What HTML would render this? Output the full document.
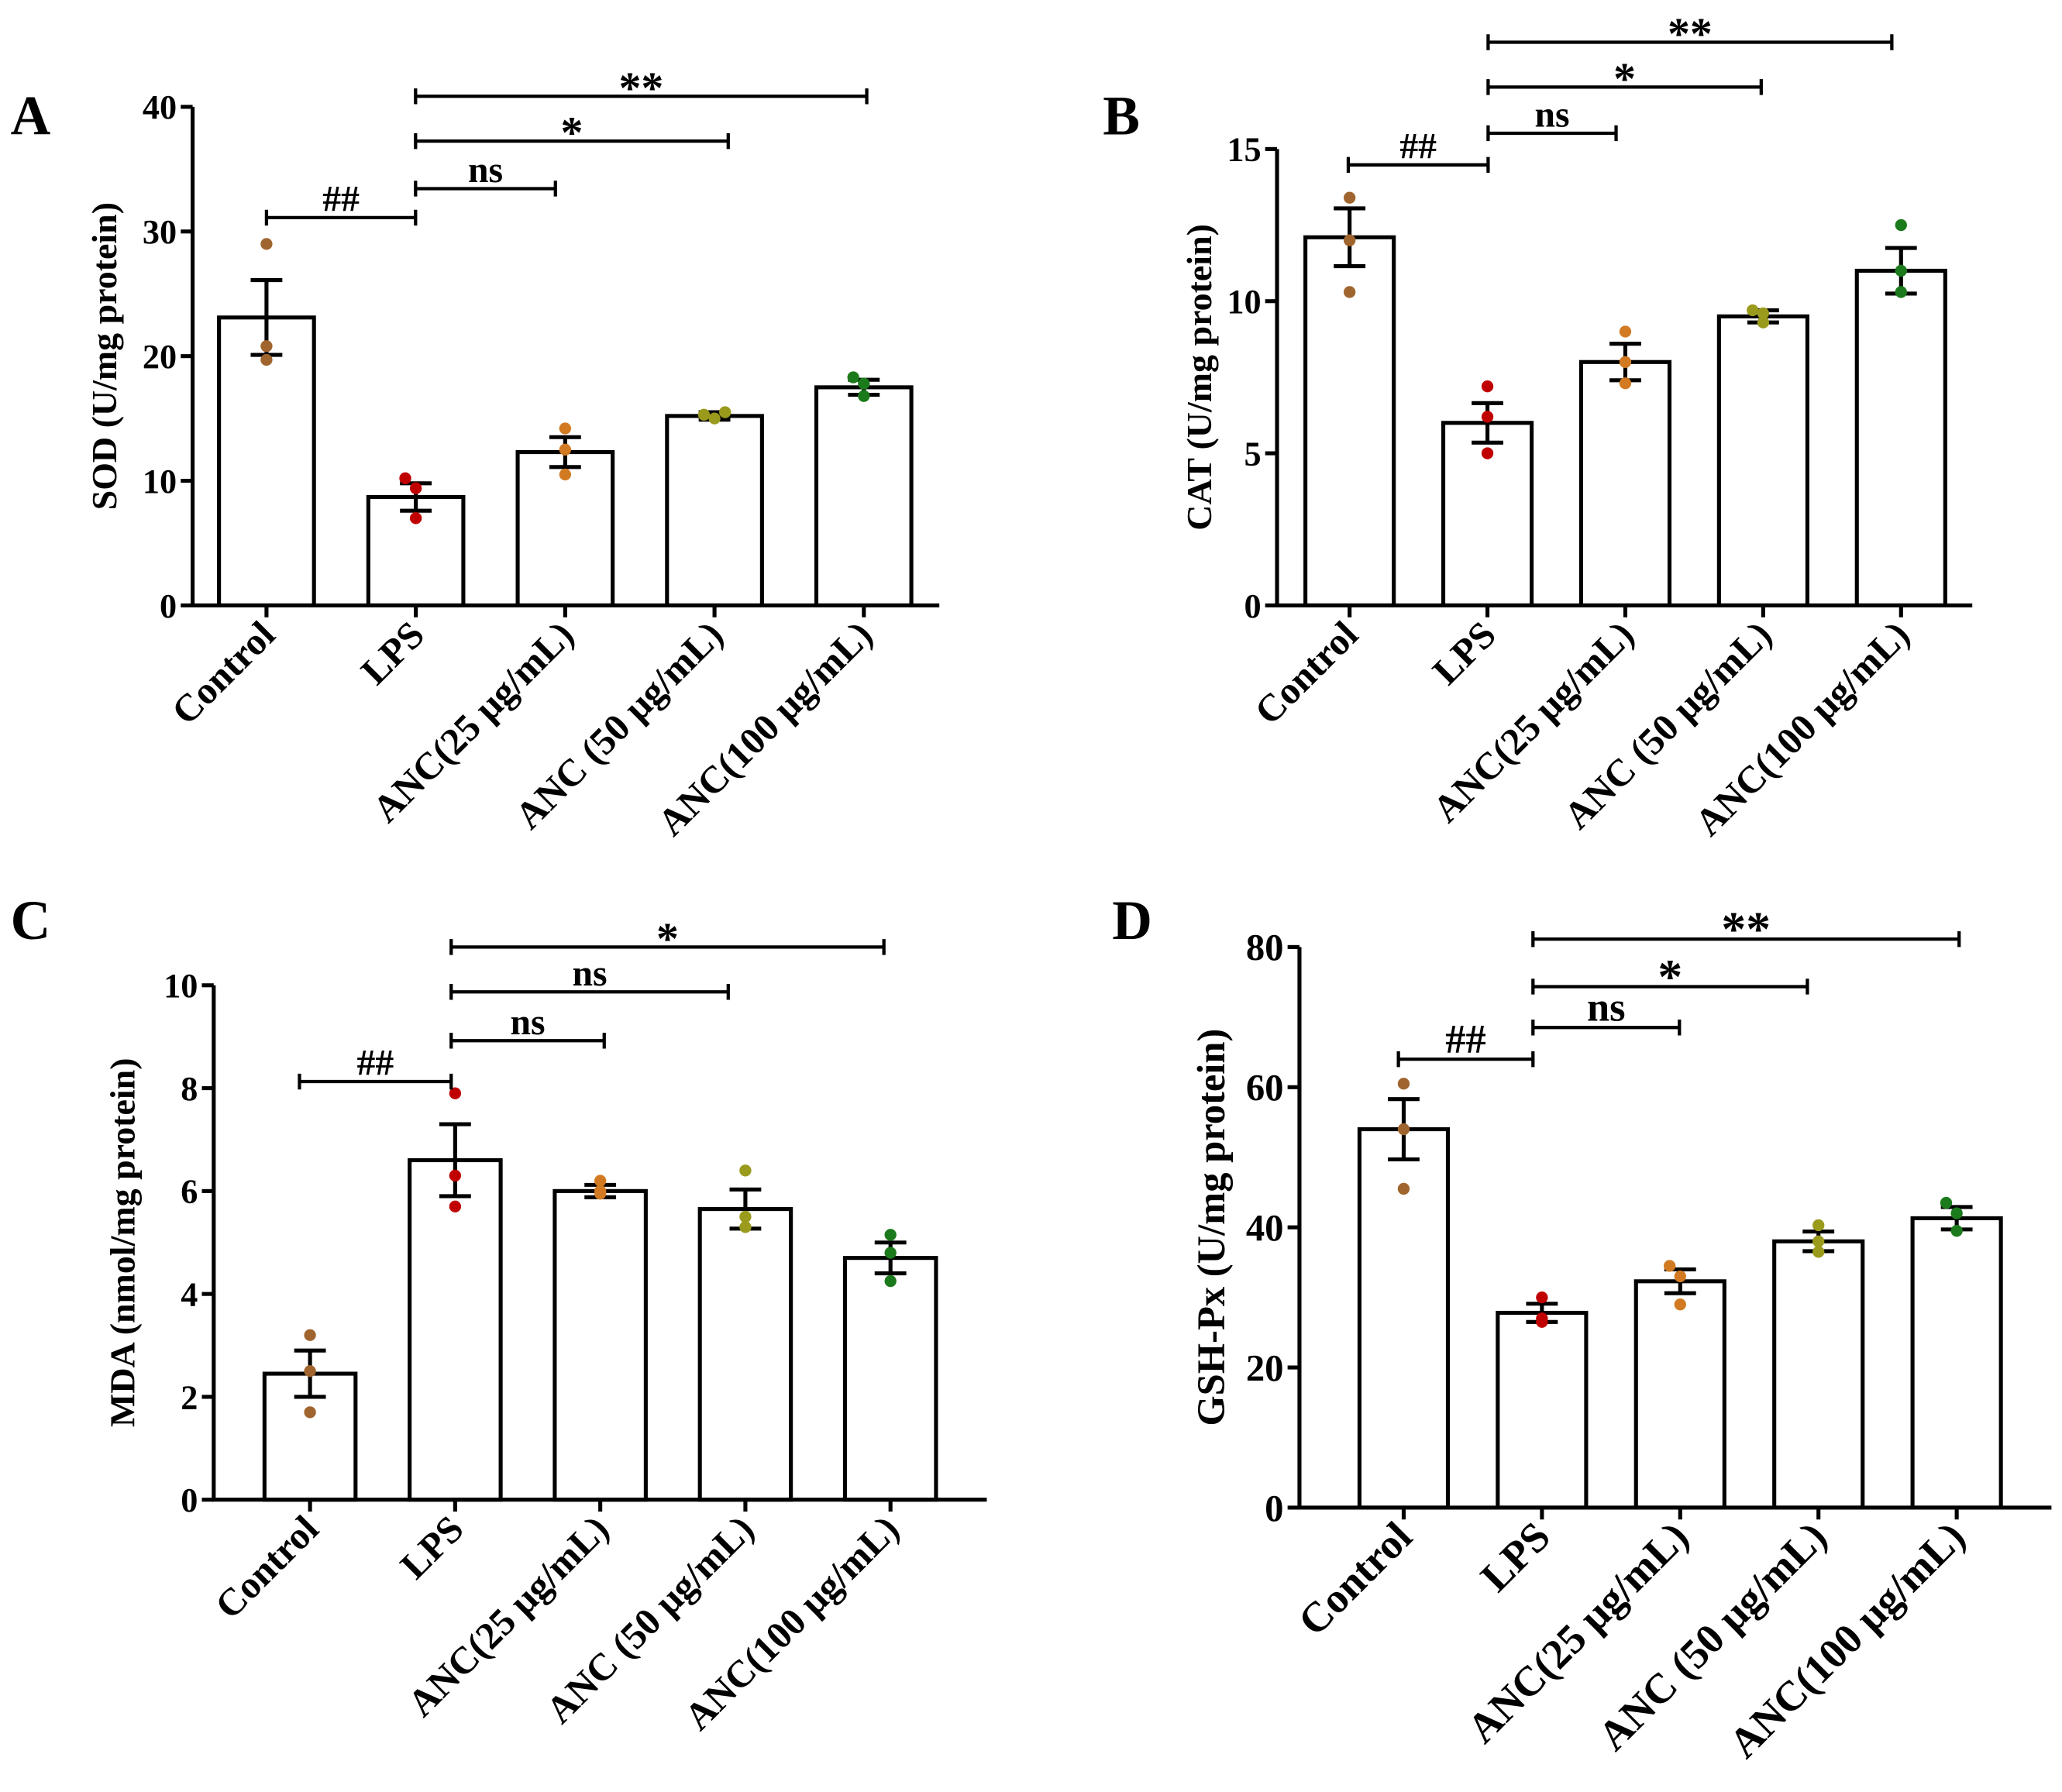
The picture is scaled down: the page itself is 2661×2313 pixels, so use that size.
<!DOCTYPE html>
<html><head><meta charset="utf-8"><style>
html,body{margin:0;padding:0;background:#fff;}
svg{display:block;}
text{font-family:"Liberation Serif",serif;font-weight:bold;fill:#000;}
</style></head><body>
<svg id="chart" width="2661" height="2313" viewBox="0 0 1563 1358.6" xmlns="http://www.w3.org/2000/svg"></svg>
<script>
const categories = ["Control","LPS","ANC(25 μg/mL)","ANC (50 μg/mL)","ANC(100 μg/mL)"];
const dotColors = ["#a0652e","#c00000","#d27a22","#9a9a1c","#1b7a1b"];

const sodMeans = [23.1, 8.7, 12.3, 15.2, 17.5];
const sodErr = [3.0, 1.1, 1.2, 0.3, 0.6];
const sodPoints = [[29.0,20.8,19.7],[10.2,9.4,7.0],[14.2,12.5,10.5],[15.3,15.0,15.5],[18.3,17.8,16.8]];
const sodTicks = [0,10,20,30,40];

const catMeans = [12.1, 6.0, 8.0, 9.5, 11.0];
const catErr = [0.95, 0.65, 0.6, 0.2, 0.75];
const catPoints = [[13.4,12.0,10.3],[7.2,6.2,5.0],[9.0,8.0,7.3],[9.7,9.6,9.3],[12.5,11.0,10.3]];
const catTicks = [0,5,10,15];

const mdaMeans = [2.45, 6.6, 6.0, 5.65, 4.7];
const mdaErr = [0.45, 0.7, 0.12, 0.38, 0.3];
const mdaPoints = [[3.2,2.5,1.7],[7.9,6.3,5.7],[6.2,6.0,5.95],[6.4,5.5,5.3],[5.15,4.8,4.25]];
const mdaTicks = [0,2,4,6,8,10];

const gshMeans = [54, 27.8, 32.3, 38, 41.3];
const gshErr = [4.3, 1.3, 1.7, 1.4, 1.6];
const gshPoints = [[60.5,54,45.5],[30,27,26.5],[34.5,33,29],[40.3,38,36.5],[43.5,42,39.5]];
const gshTicks = [0,20,40,60,80];

const sodSig = [["##",0,1],["ns",1,2],["*",1,3],["**",1,4]];
const catSig = [["##",0,1],["ns",1,2],["*",1,3],["**",1,4]];
const mdaSig = [["##",0,1],["ns",1,2],["ns",1,3],["*",1,4]];
const gshSig = [["##",0,1],["ns",1,2],["*",1,3],["**",1,4]];

const NS="http://www.w3.org/2000/svg";
const svg=document.getElementById('chart');
function el(tag,attrs,parent){const e=document.createElementNS(NS,tag);for(const k in attrs)e.setAttribute(k,attrs[k]);(parent||svg).appendChild(e);return e;}

const panels=[
 {id:"a",fs:1,letter:"A",lx:8,ly:102,x0:146,x1:712,y0:459,yTop:81,max:40,first:202,step:113.2,bw:72,title:"SOD (U/mg protein)",tx:88,means:sodMeans,err:sodErr,pts:sodPoints,ticks:sodTicks,sig:sodSig,sigY:[165,143,107,73],sigEnd:[315,421,552,657],sigStart:[202,315,315,315]},
 {id:"b",fs:1,letter:"B",lx:836,ly:102,x0:968,x1:1495,y0:459,yTop:113,max:15,first:1023,step:104.5,bw:67,title:"CAT (U/mg protein)",tx:918,means:catMeans,err:catErr,pts:catPoints,ticks:catTicks,sig:catSig,sigY:[125,101,66,32],sigEnd:[1128,1225,1335,1434],sigStart:[1022,1128,1128,1128]},
 {id:"c",fs:1,letter:"C",lx:8,ly:712,x0:162,x1:748,y0:1137,yTop:747,max:10,first:235,step:110,bw:69,title:"MDA (nmol/mg protein)",tx:102,means:mdaMeans,err:mdaErr,pts:mdaPoints,ticks:mdaTicks,sig:mdaSig,sigY:[820,789,752,718],sigEnd:[342,458,552,670],sigStart:[227,342,342,342]},
 {id:"d",fs:1.1,letter:"D",lx:843,ly:712,x0:985,x1:1555,y0:1143,yTop:718,max:80,first:1064,step:104.8,bw:67,title:"GSH-Px (U/mg protein)",tx:928,means:gshMeans,err:gshErr,pts:gshPoints,ticks:gshTicks,sig:gshSig,sigY:[803,779,748,712],sigEnd:[1162,1273,1370,1485],sigStart:[1060,1162,1162,1162]}
];

panels.forEach(p=>{
  const g=el('g',{});
  
  
  const ys=v=>p.y0-(v/p.max)*(p.y0-p.yTop);
  const xs=i=>p.first+i*p.step;
  const L=el('text',{x:p.lx,y:p.ly,'font-size':42},g);L.textContent=p.letter;
  
  
  p.means.forEach((m,i)=>{
    const r=el('rect',{x:xs(i)-p.bw/2,y:ys(m),width:p.bw,height:p.y0-ys(m),fill:'#fff',stroke:'#000','stroke-width':3},g);
    
    
  });
  const ax=el('path',{d:`M${p.x0},${p.yTop} V${p.y0} H${p.x1}`,fill:'none',stroke:'#000','stroke-width':3},g);
  
  
  p.ticks.forEach(t=>{
    el('line',{x1:p.x0-9,x2:p.x0,y1:ys(t),y2:ys(t),stroke:'#000','stroke-width':3},g);
    const tt=el('text',{x:p.x0-12,y:ys(t)+9*p.fs,'font-size':26*p.fs,'text-anchor':'end'},g);tt.textContent=t;
    
    
  });
  categories.forEach((c,i)=>{
    el('line',{x1:xs(i),x2:xs(i),y1:p.y0,y2:p.y0+9,stroke:'#000','stroke-width':3},g);
    const t=el('text',{x:xs(i)+8,y:p.y0+24,'font-size':29*p.fs,'text-anchor':'end',transform:`rotate(-45 ${xs(i)+8} ${p.y0+24})`},g);t.textContent=c;
    
    
  });
  const yt=el('text',{x:p.tx,y:(p.y0+p.yTop)/2,'font-size':27*p.fs,'text-anchor':'middle',transform:`rotate(-90 ${p.tx} ${(p.y0+p.yTop)/2})`},g);yt.textContent=p.title;
  
  
  p.means.forEach((m,i)=>{
    const x=xs(i),hi=ys(m+p.err[i]),lo=ys(m-p.err[i]);
    const e=el('path',{d:`M${x},${hi} V${lo} M${x-12},${hi} H${x+12} M${x-12},${lo} H${x+12}`,stroke:'#000','stroke-width':3,fill:'none'},g);
    
    
    p.pts[i].forEach((v,j)=>{
      const c=el('circle',{cx:x+(Math.abs(v-p.pts[i][(j+1)%3])<0.02*p.max?(j-1)*8:0),cy:ys(v),r:4.5,fill:dotColors[i]},g);
      
      
    });
  });
  p.sig.forEach((s,k)=>{
    const y=p.sigY[k],a=p.sigStart[k],b=p.sigEnd[k];
    const br=el('path',{d:`M${a},${y-6} V${y+6} M${a},${y} H${b} M${b},${y-6} V${y+6}`,stroke:'#000','stroke-width':2.5,fill:'none'},g);
    
    
    const isStar=s[0].indexOf('*')>=0;
    const t=el('text',{x:(a+b)/2,y:isStar?y+5:y-5,'font-size':(isStar?34:28)*p.fs,'text-anchor':'middle'},g);t.textContent=s[0];
    
    
  });
});
</script>
</body></html>
